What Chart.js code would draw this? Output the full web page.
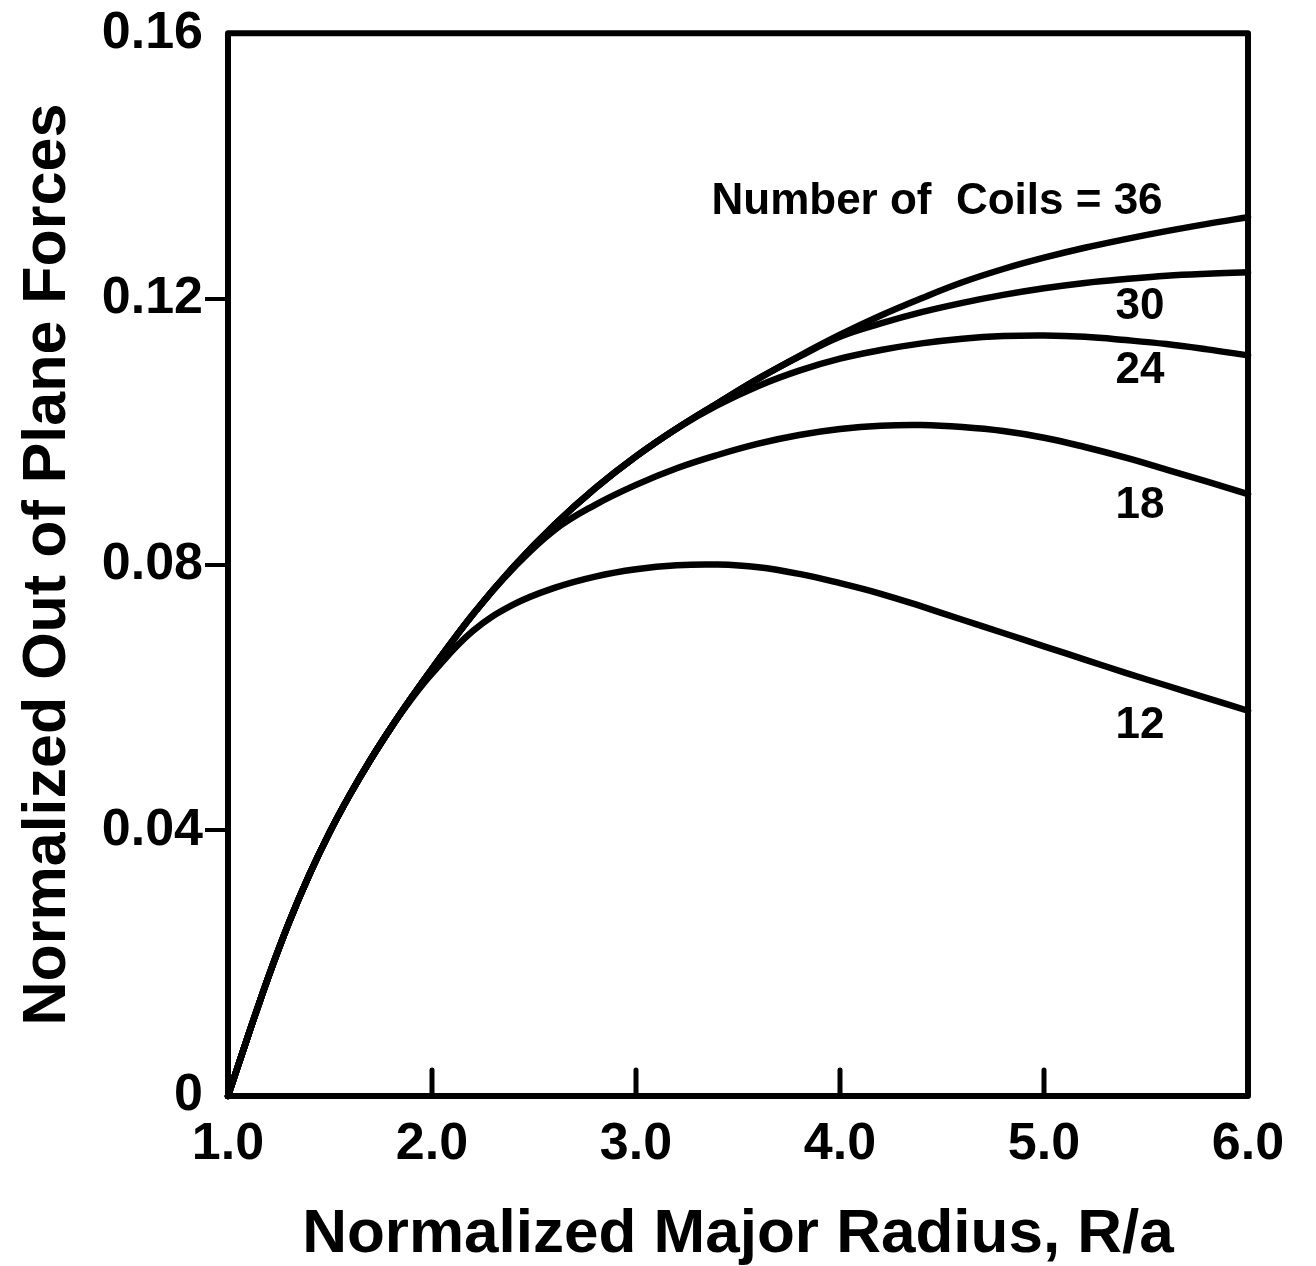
<!DOCTYPE html>
<html>
<head>
<meta charset="utf-8">
<script src="https://cdn.jsdelivr.net/npm/chart.js@4.4.1/dist/chart.umd.min.js"></script>
<style>
  html, body { margin: 0; padding: 0; background: #ffffff; }
  #wrap { position: relative; width: 1316px; height: 1266px; }
</style>
</head>
<body>
<div id="wrap"><canvas id="c"></canvas></div>
<script>
// ---- data ----
const radius = [1.0, 1.1, 1.2, 1.3, 1.4, 1.5, 1.6, 1.7, 1.8, 1.9,
                2.0, 2.2, 2.4, 2.6, 2.8, 3.0, 3.2, 3.4, 3.6, 3.8,
                4.0, 4.2, 4.4, 4.6, 4.8, 5.0, 5.2, 5.4, 5.6, 5.8, 6.0];

const coils12 = [0, 0.0092, 0.0181, 0.0262, 0.0334, 0.0398, 0.0455, 0.0507, 0.0555, 0.0598,
                 0.0636, 0.0700, 0.0740, 0.0765, 0.0782, 0.0793, 0.0799, 0.0800, 0.0796, 0.0786,
                 0.0772, 0.0756, 0.0737, 0.0717, 0.0697, 0.0677, 0.0657, 0.0637, 0.0618, 0.0599, 0.0580];

const coils18 = [0, 0.0092, 0.0181, 0.0262, 0.0334, 0.0398, 0.0455, 0.0507, 0.0555, 0.0600,
                 0.0643, 0.0725, 0.0795, 0.0852, 0.0890, 0.0920, 0.0945, 0.0965, 0.0982, 0.0995,
                 0.1004, 0.1009, 0.1010, 0.1007, 0.1001, 0.0991, 0.0977, 0.0961, 0.0943, 0.0925, 0.0906];

const coils24 = [0, 0.0092, 0.0181, 0.0262, 0.0334, 0.0398, 0.0455, 0.0507, 0.0555, 0.0600,
                 0.0643, 0.0725, 0.0797, 0.0860, 0.0915, 0.0963, 0.1005, 0.1040, 0.1069, 0.1092,
                 0.1110, 0.1123, 0.1133, 0.1140, 0.1144, 0.1145, 0.1143, 0.1138, 0.1132, 0.1124, 0.1115];

const coils30 = [0, 0.0092, 0.0181, 0.0262, 0.0334, 0.0398, 0.0455, 0.0507, 0.0555, 0.0600,
                 0.0643, 0.0725, 0.0797, 0.0860, 0.0915, 0.0963, 0.1005, 0.1043, 0.1080, 0.1113,
                 0.1143, 0.1163, 0.1180, 0.1194, 0.1206, 0.1216, 0.1224, 0.1230, 0.1235, 0.1238, 0.1240];

const coils36 = [0, 0.0092, 0.0181, 0.0262, 0.0334, 0.0398, 0.0455, 0.0507, 0.0555, 0.0600,
                 0.0643, 0.0725, 0.0797, 0.0860, 0.0915, 0.0963, 0.1005, 0.1043, 0.1080, 0.1114,
                 0.1146, 0.1175, 0.1201, 0.1225, 0.1245, 0.1262, 0.1277, 0.1290, 0.1302, 0.1313, 0.1323];

const seriesNames = ['12', '18', '24', '30', '36'];
const xTickLabels = ['1.0', '2.0', '3.0', '4.0', '5.0', '6.0'];
const yTickLabels = ['0', '0.04', '0.08', '0.12', '0.16'];
const xInnerTicks = [2, 3, 4, 5];

// curve labels: text and anchor in data coordinates
const labelTexts = ['Number of  Coils = 36', '30', '24', '18', '12'];
const labelX = [3.37, 5.47, 5.47, 5.47, 5.47];
const labelY = [0.1346, 0.1188, 0.1091, 0.0888, 0.0557];
const labelAlign = ['left', 'center', 'center', 'center', 'center'];

// ---- chart ----
const allSeries = [coils12, coils18, coils24, coils30, coils36];
const datasets = allSeries.map((arr, i) => ({
  label: seriesNames[i],
  data: radius.map((r, k) => ({ x: r, y: arr[k] })),
  borderColor: '#000000',
  borderWidth: 6.5,
  borderCapStyle: 'round',
  borderJoinStyle: 'round',
  pointRadius: 0,
  fill: false,
  tension: 0.4,
  clip: 4
}));

const frame = {
  id: 'frame',
  afterDatasetsDraw(chart) {
    const { ctx, chartArea: a, scales } = chart;
    ctx.save();
    ctx.strokeStyle = '#000';
    ctx.lineCap = 'round';
    ctx.lineJoin = 'round';
    ctx.lineWidth = 6;
    ctx.strokeRect(a.left, a.top, a.right - a.left, a.bottom - a.top);
    // inward ticks on the x axis
    ctx.lineWidth = 5;
    xInnerTicks.forEach(v => {
      const px = scales.x.getPixelForValue(v);
      ctx.beginPath();
      ctx.moveTo(px, a.bottom);
      ctx.lineTo(px, a.bottom - 26);
      ctx.stroke();
    });
    // curve labels
    ctx.fillStyle = '#000';
    ctx.textBaseline = 'middle';
    labelTexts.forEach((t, i) => {
      ctx.font = 'bold 44px "Liberation Sans", Arial, sans-serif';
      ctx.textAlign = labelAlign[i];
      ctx.fillText(t, scales.x.getPixelForValue(labelX[i]), scales.y.getPixelForValue(labelY[i]));
    });
    ctx.restore();
  }
};

new Chart(document.getElementById('c'), {
  type: 'line',
  data: { datasets },
  options: {
    responsive: true,
    maintainAspectRatio: false,
    animation: false,
    devicePixelRatio: 1,
    layout: { padding: { left: 0, top: 32, right: 68, bottom: 0 } },
    plugins: { legend: { display: false }, tooltip: { enabled: false } },
    scales: {
      x: {
        type: 'linear',
        min: 1, max: 6,
        afterFit(s) { s.height = 170; },
        border: { display: false },
        grid: { display: false, drawTicks: false },
        ticks: {
          stepSize: 1,
          padding: 17,
          color: '#000',
          font: { family: '"Liberation Sans", Arial, sans-serif', size: 52, weight: 'bold' },
          callback: (v) => xTickLabels[Math.round(v) - 1]
        },
        title: {
          display: true,
          text: 'Normalized Major Radius, R/a',
          color: '#000',
          font: { family: '"Liberation Sans", Arial, sans-serif', size: 62, weight: 'bold', lineHeight: 1 },
          padding: { top: 0, bottom: 0 }
        }
      },
      y: {
        type: 'linear',
        min: 0, max: 0.16,
        afterFit(s) { s.width = 228; },
        border: { display: false },
        grid: {
          drawOnChartArea: false,
          drawTicks: true,
          tickLength: 23,
          lineWidth: 4,
          color: (c) => (c.tick && (c.tick.value === 0 || Math.abs(c.tick.value - 0.16) < 1e-9)) ? 'rgba(0,0,0,0)' : '#000'
        },
        ticks: {
          stepSize: 0.04,
          padding: 2,
          color: '#000',
          font: { family: '"Liberation Sans", Arial, sans-serif', size: 52, weight: 'bold' },
          callback: (v) => yTickLabels[Math.round(v / 0.04)]
        },
        title: {
          display: true,
          text: 'Normalized Out of Plane Forces',
          color: '#000',
          font: { family: '"Liberation Sans", Arial, sans-serif', size: 61, weight: 'bold', lineHeight: 1 },
          padding: { top: 18, bottom: 0 }
        }
      }
    }
  },
  plugins: [frame]
});
</script>
</body>
</html>
